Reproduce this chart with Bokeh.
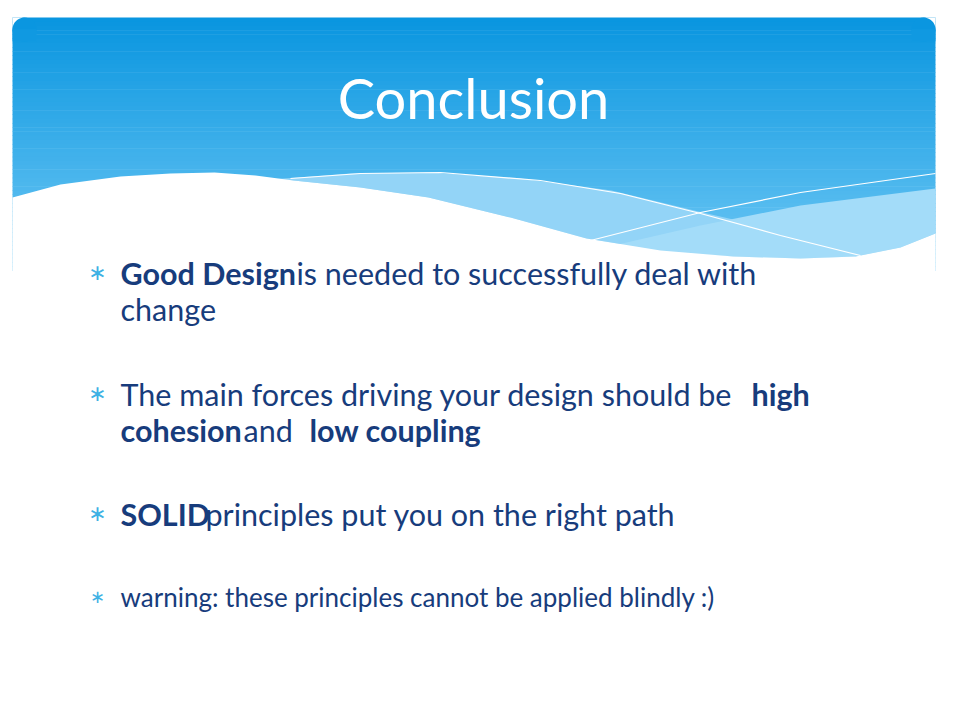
import numpy as np
from bokeh.plotting import figure
from bokeh.models import Range1d
from bokeh.core.properties import value
from bokeh.embed import file_html
from bokeh.resources import INLINE

FONT = "Lato"
NAVY = "#173c7c"
BULLET = "#3eb1e4"

title = "Conclusion"

# each bullet: list of (text, bold, x start), y of the line, font size
lines = [
    ([("Good Design", True, 120), (" is needed to successfully deal with", False, 296)], 272, "30.5px"),
    ([("change", False, 120)], 308, "30.5px"),
    ([("The main forces driving your design should be ", False, 120), ("high", True, 751)], 393, "30.5px"),
    ([("cohesion", True, 120), (" and ", False, 243), ("low coupling", True, 309)], 429, "30.5px"),
    ([("SOLID", True, 120), (" principles put you on the right path", False, 205)], 513, "30.5px"),
    ([("warning: these principles cannot be applied blindly :)", False, 120)], 596, "26px"),
]
bullet_y = [272, 393, 513, 596]
bullet_size = ["22px", "22px", "22px", "18px"]

# header decoration outlines (screen pixels)
white_wave_x = [12, 60, 120, 170, 214, 255, 293, 360, 428, 510, 586, 660, 733, 800, 855, 900, 935, 935, 12]
white_wave_y = [197, 184, 176, 173, 172, 175, 180, 187, 197, 217, 238, 250, 256, 258, 256, 247, 233, 290, 290]
light_band_x = [270, 350, 430, 520, 611, 702, 790, 855, 800, 733, 660, 586, 510, 428, 360, 293]
light_band_y = [179, 173, 172, 178, 190, 212, 232, 256, 258, 256, 250, 238, 217, 197, 187, 180]
right_band_x = [600, 700, 800, 935, 935, 900, 855, 800, 733]
right_band_y = [248, 225, 205, 188, 233, 247, 256, 258, 256]
line1_x = [290, 360, 440, 540, 620, 700, 780, 860]
line1_y = [178, 173, 172, 180, 193, 213, 235, 255]
line2_x = [590, 700, 800, 935]
line2_y = [240, 212, 192, 173]

p = figure(width=937, height=701, output_backend="svg", toolbar_location=None,
           x_range=Range1d(0, 937), y_range=Range1d(701, 0), min_border=0)
p.axis.visible = False
p.grid.visible = False
p.outline_line_color = None
p.background_fill_color = "white"

# header gradient
top, bottom = 17, 270
n = 60
edges = np.linspace(top, bottom, n + 1)
c0 = np.array([10, 150, 224])
c1 = np.array([110, 200, 245])
cols = []
for i in range(n):
    t = i / (n - 1)
    c = (c0 + (c1 - c0) * t).astype(int)
    cols.append("#%02x%02x%02x" % tuple(c))
p.quad(left=12, right=935, top=edges[:-1], bottom=edges[1:] + 0.5, fill_color=cols, line_color=None)
# rounded top corners
p.quad(left=[12, 925], right=[22, 935], top=17, bottom=27, fill_color="white", line_color=None)
p.wedge(x=[24, 923], y=[29, 29], radius=12, start_angle=0, end_angle=2 * np.pi,
        fill_color=cols[0], line_color=None)
p.quad(left=[12, 911], right=[36, 935], top=29, bottom=41, fill_color=cols[4], line_color=None)

p.patch(light_band_x, light_band_y, fill_color="#93d4f7", line_color=None)
p.patch(right_band_x, right_band_y, fill_color="#a3dcf9", line_color=None)
p.patch(white_wave_x, white_wave_y, fill_color="white", line_color=None)
p.line(line1_x, line1_y, line_color="white", line_width=1.2)
p.line(line2_x, line2_y, line_color="white", line_width=1.2)

p.text(x=[473], y=[97], text=[title], text_color="white", text_font=value(FONT),
       text_font_size="56px", text_align="center", text_baseline="middle")

p.text(x=[97] * len(bullet_y), y=bullet_y, text=["\u2217"] * len(bullet_y), text_color=BULLET,
       text_font=value("DejaVu Sans"), text_font_size=bullet_size, text_align="center",
       text_baseline="middle")

for runs, y, size in lines:
    for txt, bold, x in runs:
        p.text(x=[x], y=[y], text=[txt], text_color=NAVY, text_font=value(FONT),
               text_font_size=size, text_font_style="bold" if bold else "normal",
               text_baseline="middle")

open("out.html", "w").write(file_html(p, INLINE))
